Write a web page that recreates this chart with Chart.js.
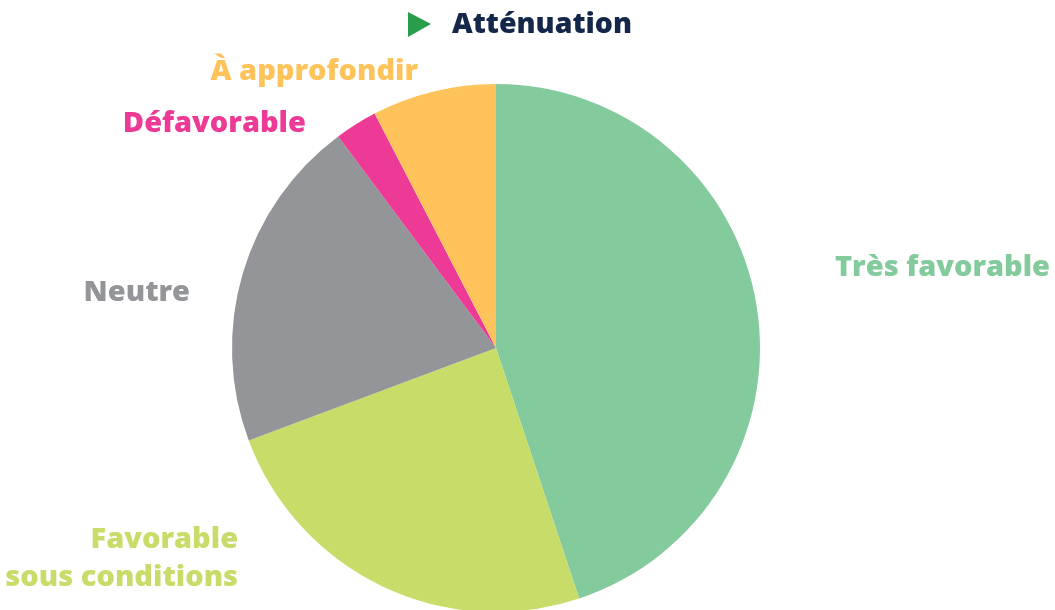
<!DOCTYPE html>
<html>
<head>
<meta charset="utf-8">
<script src="https://cdn.jsdelivr.net/npm/chart.js"></script>
<style>
  html, body { margin: 0; padding: 0; background: #fff; overflow: hidden; }
  #wrap { width: 1055px; height: 640px; position: relative; }
</style>
</head>
<body>
<div id="wrap"><canvas id="pieChart"></canvas></div>
<script>
// données (en %)
const categories = ['Très favorable', 'Favorable\nsous conditions', 'Neutre', 'Défavorable', 'À approfondir'];
const values = [44.9, 24.4, 20.5, 2.6, 7.6];
const colors = ['#83CA9C', '#C8DC69', '#939598', '#EC3A96', '#FEC45B'];
const titleText = 'Atténuation';

// position des étiquettes, en rayons depuis le centre
const labelPos = [
    { dx: 1.284, dy: -0.303, align: 'left' },
    { dx: -0.977, dy: 0.799, align: 'right' },
    { dx: -1.159, dy: -0.208, align: 'right' },
    { dx: -0.720, dy: -0.848, align: 'right' },
    { dx: -0.295, dy: -1.045, align: 'right' }
];

const FONT = '800 29px "Open Sans"';

const labelPlugin = {
    id: 'labels',
    afterDraw(chart) {
        const ctx = chart.ctx;
        const arc = chart.getDatasetMeta(0).data[0];
        const cx = arc.x, cy = arc.y, r = arc.outerRadius;

        ctx.save();
        ctx.font = FONT;
        ctx.textBaseline = 'middle';
        categories.forEach((label, i) => {
            const p = labelPos[i];
            const lines = label.split('\n');
            const lh = 38;
            ctx.fillStyle = colors[i];
            ctx.textAlign = p.align;
            lines.forEach((line, j) => {
                const y = cy + p.dy * r + (j - (lines.length - 1) / 2) * lh;
                ctx.fillText(line, cx + p.dx * r, y);
            });
        });

        // titre avec triangle
        ctx.font = '800 28.5px "Open Sans"';
        ctx.textAlign = 'left';
        ctx.fillStyle = '#14274A';
        ctx.fillText(titleText, 452, 25);
        ctx.fillStyle = '#2A9D4A';
        ctx.beginPath();
        ctx.moveTo(408, 12);
        ctx.lineTo(431, 24);
        ctx.lineTo(408, 37);
        ctx.closePath();
        ctx.fill();
        ctx.restore();
    }
};

const ctx = document.getElementById('pieChart').getContext('2d');
const chart = new Chart(ctx, {
    type: 'pie',
    data: {
        labels: categories,
        datasets: [{
            data: values,
            backgroundColor: colors,
            borderWidth: 0
        }]
    },
    options: {
        responsive: true,
        maintainAspectRatio: false,
        animation: false,
        layout: { padding: { top: 84, bottom: 28, left: 0, right: 63 } },
        plugins: {
            legend: { display: false },
            tooltip: { enabled: false }
        }
    },
    plugins: [labelPlugin]
});
</script>
</body>
</html>
